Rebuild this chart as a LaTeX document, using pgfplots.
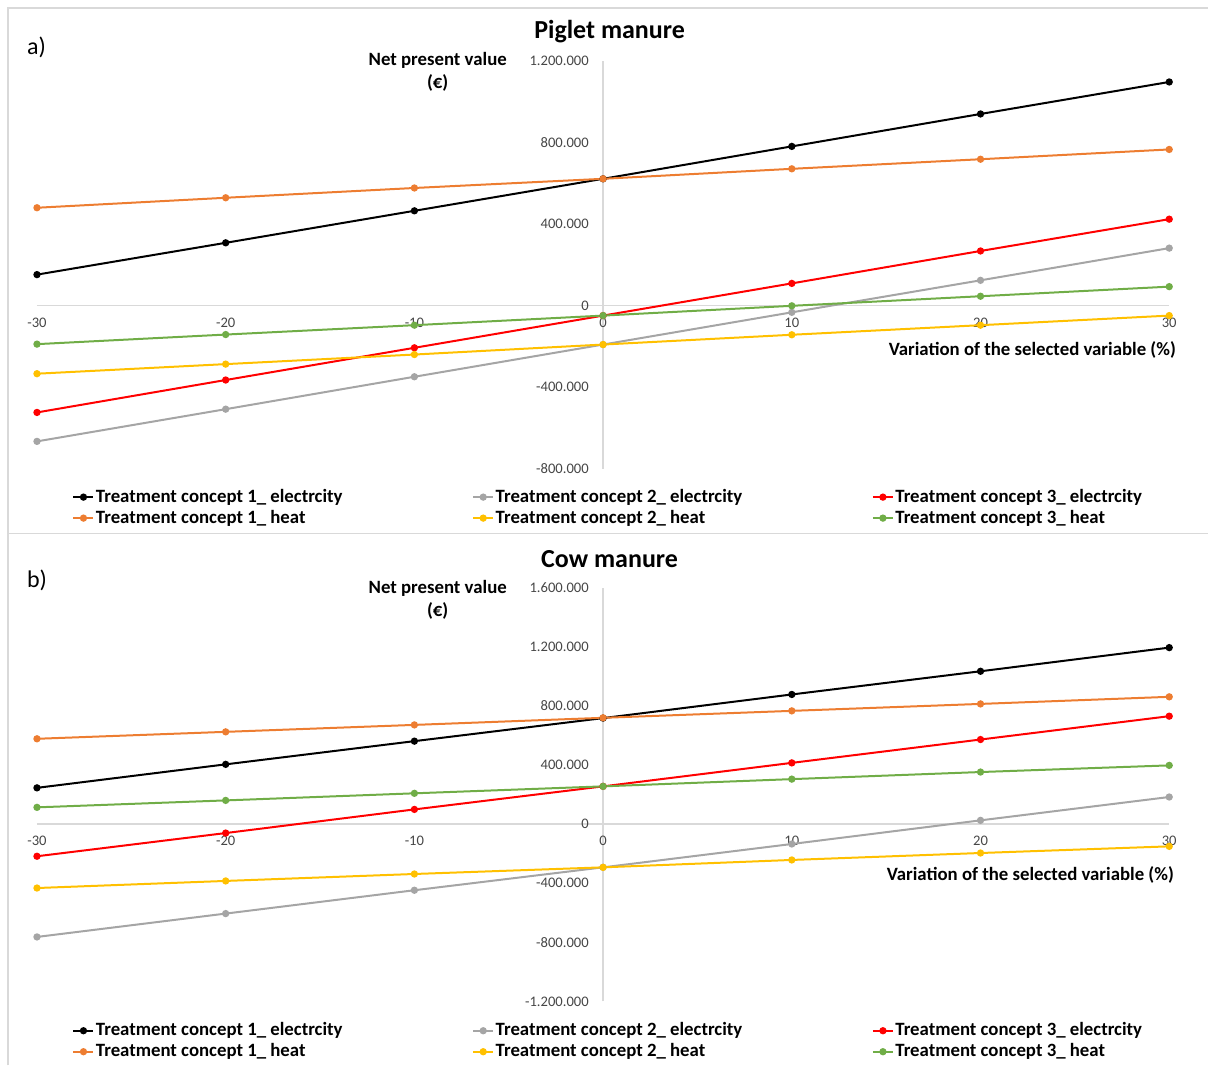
\documentclass[border=0pt]{standalone}
\usepackage{fontspec}
\setmainfont{Carlito}
\usepackage{pgfplots}
\pgfplotsset{compat=1.18}
\definecolor{cA}{RGB}{0,0,0}
\definecolor{cB}{RGB}{165,165,165}
\definecolor{cC}{RGB}{255,0,0}
\definecolor{cD}{RGB}{237,125,49}
\definecolor{cE}{RGB}{255,192,0}
\definecolor{cF}{RGB}{112,173,71}
\definecolor{axgray}{RGB}{217,217,217}
\definecolor{txgray}{RGB}{70,70,70}
\pgfplotsset{
  legend image code/.code={\draw[mark repeat=2,mark phase=2,#1] plot coordinates {(0pt,0pt) (5pt,0pt) (10pt,0pt)};},
  npv/.style={
    scale only axis, width=566.5pt,
    axis lines=middle, axis line style={draw=axgray, line width=0.7pt, -},
    xmin=-30, xmax=30, xtick={-30,-20,-10,0,10,20,30},
    xticklabels={-30,-20,-10,0,10,20,30},
    scaled y ticks=false, scaled x ticks=false,
    major tick length=0pt, hide obscured x ticks=false, hide obscured y ticks=false,
    tick label style={font=\fontsize{7.3}{8}\selectfont, text=txgray, inner sep=0pt},
    xticklabel style={anchor=north, yshift=-6pt},
    yticklabel style={anchor=east, xshift=-7pt},
    clip=false,
    every axis plot/.append style={line width=1pt, mark=*, mark size=1.3pt},
    legend columns=3,
    legend style={draw=none, fill=none, inner sep=0pt, anchor=north west,
      font=\fontsize{9.4}{10.5}\selectfont\bfseries,
      nodes={inner sep=0.75pt, text height=7pt, text depth=2pt},
      row sep=0pt,
      /tikz/every even column/.append style={column sep=0pt}},
    legend cell align=left,
  }
}
\newcommand{\lgA}[1]{\makebox[187.5pt][l]{#1}}
\newcommand{\lgB}[1]{\makebox[150pt][l]{#1}}
\begin{document}
\begin{tikzpicture}[x=0.5pt,y=-0.5pt]
\path (0,0) rectangle (1209,1066);
\draw[axgray, line width=0.8pt] (8,1066) -- (8,8) -- (1209,8);
\draw[axgray, line width=0.8pt] (8,534) -- (1209,534);

% ---------- panel a ----------
\begin{axis}[npv, at={(18.5pt,-234.5pt)}, anchor=south west, height=204pt,
  ymin=-800000, ymax=1200000,
  ytick={-800000,-400000,0,400000,800000,1200000},
  yticklabels={-800.000,-400.000,0,400.000,800.000,1.200.000},
  legend style={at={(0.031,-0.043)}}]
\addplot[cA] coordinates {(-30,152000)(-20,308000)(-10,465000)(0,622000)(10,781000)(20,940000)(30,1097000)};
\addlegendentry{\lgA{Treatment concept 1\_ electrcity}}
\addplot[cB] coordinates {(-30,-666000)(-20,-508000)(-10,-349000)(0,-191000)(10,-33000)(20,124000)(30,282000)};
\addlegendentry{\lgA{Treatment concept 2\_ electrcity}}
\addplot[cC] coordinates {(-30,-524000)(-20,-365000)(-10,-207000)(0,-49000)(10,109000)(20,268000)(30,424000)};
\addlegendentry{\lgB{Treatment concept 3\_ electrcity}}
\addplot[cD] coordinates {(-30,480000)(-20,529000)(-10,577000)(0,622000)(10,671000)(20,718000)(30,766000)};
\addlegendentry{\lgA{Treatment concept 1\_ heat}}
\addplot[cE] coordinates {(-30,-334000)(-20,-287000)(-10,-240000)(0,-191000)(10,-143000)(20,-96000)(30,-49000)};
\addlegendentry{\lgA{Treatment concept 2\_ heat}}
\addplot[cF] coordinates {(-30,-189000)(-20,-142000)(-10,-96000)(0,-49000)(10,-1000)(20,46000)(30,93000)};
\addlegendentry{\lgB{Treatment concept 3\_ heat}}
\end{axis}

% ---------- panel b ----------
\begin{axis}[npv, at={(18.5pt,-501pt)}, anchor=south west, height=207pt,
  ymin=-1200000, ymax=1600000,
  ytick={-1200000,-800000,-400000,0,400000,800000,1200000,1600000},
  yticklabels={-1.200.000,-800.000,-400.000,0,400.000,800.000,1.200.000,1.600.000},
  legend style={at={(0.031,-0.0447)}}]
\addplot[cA] coordinates {(-30,245000)(-20,404000)(-10,561000)(0,717000)(10,877000)(20,1034000)(30,1194000)};
\addlegendentry{\lgA{Treatment concept 1\_ electrcity}}
\addplot[cB] coordinates {(-30,-764000)(-20,-606000)(-10,-448000)(0,-293000)(10,-135000)(20,25000)(30,183000)};
\addlegendentry{\lgA{Treatment concept 2\_ electrcity}}
\addplot[cC] coordinates {(-30,-218000)(-20,-61000)(-10,99000)(0,255000)(10,414000)(20,572000)(30,730000)};
\addlegendentry{\lgB{Treatment concept 3\_ electrcity}}
\addplot[cD] coordinates {(-30,577000)(-20,624000)(-10,671000)(0,719000)(10,766000)(20,813000)(30,861000)};
\addlegendentry{\lgA{Treatment concept 1\_ heat}}
\addplot[cE] coordinates {(-30,-433000)(-20,-385000)(-10,-338000)(0,-293000)(10,-243000)(20,-196000)(30,-151000)};
\addlegendentry{\lgA{Treatment concept 2\_ heat}}
\addplot[cF] coordinates {(-30,113000)(-20,160000)(-10,208000)(0,255000)(10,304000)(20,352000)(30,397000)};
\addlegendentry{\lgB{Treatment concept 3\_ heat}}
\end{axis}

% ---------- texts ----------
\node[font=\fontsize{13}{15}\selectfont\bfseries] at (610,32) {Piglet manure};
\node[font=\fontsize{12}{14}\selectfont, anchor=west] at (20,47) {a)};
\node[font=\fontsize{9.4}{11.5}\selectfont\bfseries, align=center] at (438,72) {Net present value\\(€)};
\node[font=\fontsize{9.4}{10}\selectfont\bfseries, anchor=east, inner sep=0pt] at (1177,350) {Variation of the selected variable (\%)};

\node[font=\fontsize{13}{15}\selectfont\bfseries] at (610,559) {Cow manure};
\node[font=\fontsize{12}{14}\selectfont, anchor=west] at (20,581) {b)};
\node[font=\fontsize{9.4}{11.5}\selectfont\bfseries, align=center] at (438,600) {Net present value\\(€)};
\node[font=\fontsize{9.4}{10}\selectfont\bfseries, anchor=east, inner sep=0pt] at (1175,876) {Variation of the selected variable (\%)};
\end{tikzpicture}
\end{document}
